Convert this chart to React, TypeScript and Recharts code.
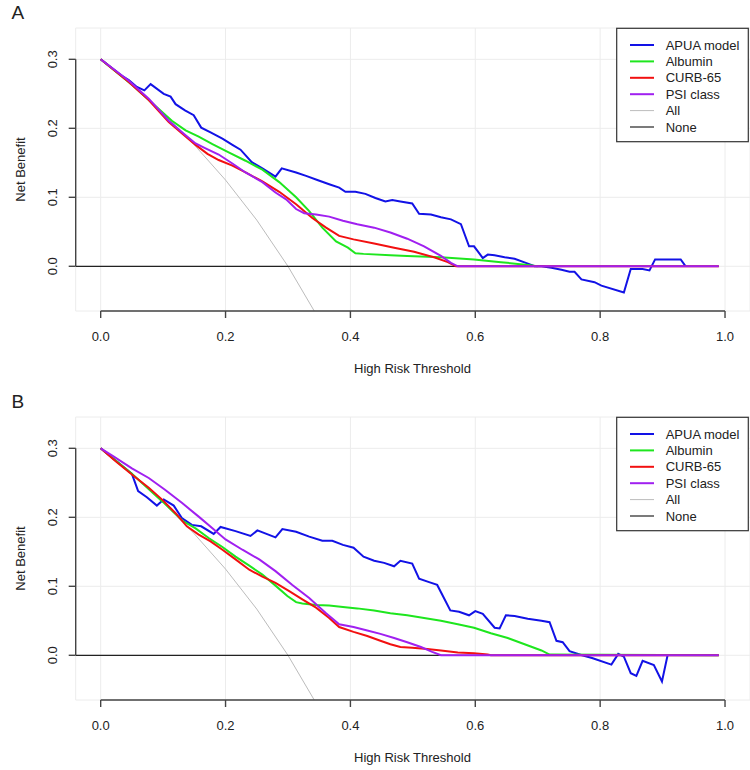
import React from 'react';
import {LineChart, Line, XAxis, YAxis, CartesianGrid} from 'recharts';

// [threshold, net benefit] pairs
const treatAll = [
  [0, 0.3], [0.05, 0.263], [0.1, 0.222], [0.15, 0.176], [0.2, 0.125],
  [0.25, 0.067], [0.3, 0.0], [0.35, -0.077],
];
const treatNone = [[-0.04, 0], [0.99, 0]];

const apuaA = [
  [0, 0.3], [0.034, 0.276], [0.045, 0.27], [0.058, 0.26], [0.07, 0.255], [0.08, 0.264],
  [0.101, 0.25], [0.112, 0.246], [0.12, 0.235], [0.135, 0.226], [0.149, 0.219], [0.161, 0.201],
  [0.176, 0.194], [0.195, 0.185], [0.211, 0.176], [0.224, 0.169], [0.242, 0.151], [0.259, 0.142],
  [0.28, 0.13], [0.29, 0.142], [0.313, 0.136], [0.329, 0.131], [0.347, 0.125], [0.366, 0.119],
  [0.382, 0.114], [0.392, 0.108], [0.408, 0.108], [0.424, 0.105], [0.44, 0.099], [0.456, 0.094],
  [0.467, 0.096], [0.48, 0.094], [0.499, 0.091], [0.51, 0.076], [0.529, 0.075], [0.545, 0.071],
  [0.561, 0.068], [0.577, 0.061], [0.59, 0.029], [0.598, 0.029], [0.612, 0.012], [0.62, 0.017],
  [0.631, 0.016], [0.647, 0.013], [0.663, 0.011], [0.681, 0.005], [0.695, 0.0], [0.706, 0.0],
  [0.722, -0.002], [0.738, -0.005], [0.751, -0.008], [0.759, -0.008], [0.77, -0.019],
  [0.791, -0.023], [0.802, -0.028], [0.838, -0.038], [0.849, -0.004], [0.868, -0.004],
  [0.879, -0.006], [0.888, 0.01], [0.929, 0.01], [0.937, 0.0],
];
const albuminA = [
  [0, 0.3], [0.05, 0.263], [0.114, 0.211], [0.136, 0.197], [0.157, 0.188], [0.179, 0.177],
  [0.205, 0.165], [0.232, 0.153], [0.259, 0.14], [0.286, 0.122], [0.313, 0.1], [0.334, 0.08],
  [0.355, 0.056], [0.377, 0.036], [0.396, 0.027], [0.408, 0.019], [0.421, 0.018], [0.464, 0.016],
  [0.491, 0.015], [0.545, 0.013], [0.598, 0.01], [0.641, 0.006], [0.684, 0.002], [0.7, 0.0],
];
const curbA = [
  [0, 0.3], [0.045, 0.267], [0.077, 0.241], [0.109, 0.209], [0.136, 0.188], [0.152, 0.176],
  [0.171, 0.163], [0.189, 0.154], [0.211, 0.146], [0.232, 0.136], [0.259, 0.123], [0.286, 0.108],
  [0.313, 0.09], [0.339, 0.07], [0.361, 0.056], [0.382, 0.044], [0.405, 0.039], [0.438, 0.033],
  [0.47, 0.027], [0.502, 0.021], [0.534, 0.013], [0.556, 0.006], [0.569, 0.0], [0.99, 0],
];
const psiA = [
  [0, 0.3], [0.045, 0.269], [0.077, 0.243], [0.109, 0.211], [0.136, 0.19], [0.152, 0.178],
  [0.168, 0.171], [0.189, 0.162], [0.211, 0.149], [0.232, 0.136], [0.259, 0.122], [0.28, 0.107],
  [0.297, 0.097], [0.313, 0.083], [0.326, 0.077], [0.345, 0.075], [0.366, 0.072], [0.388, 0.066],
  [0.411, 0.061], [0.438, 0.056], [0.464, 0.049], [0.491, 0.04], [0.518, 0.029], [0.545, 0.015],
  [0.561, 0.005], [0.572, 0.0], [0.99, 0],
];

const apuaB = [
  [0, 0.3], [0.05, 0.263], [0.06, 0.238], [0.074, 0.229], [0.09, 0.217], [0.101, 0.226],
  [0.117, 0.217], [0.13, 0.199], [0.146, 0.189], [0.161, 0.187], [0.181, 0.176], [0.192, 0.186],
  [0.216, 0.18], [0.24, 0.173], [0.251, 0.181], [0.28, 0.171], [0.291, 0.183], [0.313, 0.179],
  [0.334, 0.172], [0.355, 0.166], [0.371, 0.166], [0.388, 0.16], [0.405, 0.156], [0.421, 0.143],
  [0.438, 0.137], [0.454, 0.134], [0.47, 0.129], [0.48, 0.137], [0.499, 0.133], [0.51, 0.111],
  [0.526, 0.106], [0.539, 0.102], [0.56, 0.065], [0.574, 0.063], [0.59, 0.058], [0.6, 0.064],
  [0.612, 0.06], [0.631, 0.04], [0.639, 0.039], [0.649, 0.058], [0.663, 0.057], [0.684, 0.053],
  [0.706, 0.05], [0.719, 0.048], [0.73, 0.021], [0.74, 0.019], [0.751, 0.006], [0.771, 0.0],
  [0.787, -0.004], [0.818, -0.0135], [0.829, 0.002], [0.838, -0.002], [0.849, -0.026],
  [0.858, -0.03], [0.868, -0.008], [0.886, -0.014], [0.899, -0.038], [0.908, 0.0],
];
const albuminB = [
  [0, 0.3], [0.05, 0.263], [0.1, 0.222], [0.131, 0.195], [0.152, 0.184], [0.173, 0.17],
  [0.195, 0.157], [0.216, 0.143], [0.238, 0.13], [0.259, 0.117], [0.28, 0.101], [0.299, 0.086],
  [0.313, 0.077], [0.323, 0.075], [0.345, 0.073], [0.366, 0.072], [0.388, 0.07], [0.411, 0.068],
  [0.438, 0.065], [0.464, 0.061], [0.491, 0.058], [0.518, 0.054], [0.545, 0.05], [0.572, 0.045],
  [0.598, 0.04], [0.625, 0.032], [0.652, 0.025], [0.679, 0.016], [0.706, 0.007], [0.719, 0.001],
  [0.99, 0],
];
const curbB = [
  [0, 0.3], [0.023, 0.282], [0.05, 0.262], [0.077, 0.243], [0.098, 0.226], [0.12, 0.206],
  [0.138, 0.187], [0.157, 0.175], [0.176, 0.165], [0.195, 0.153], [0.216, 0.139], [0.238, 0.124],
  [0.259, 0.114], [0.28, 0.105], [0.302, 0.093], [0.323, 0.081], [0.345, 0.069], [0.366, 0.054],
  [0.382, 0.041], [0.405, 0.034], [0.427, 0.028], [0.448, 0.021], [0.464, 0.016], [0.48, 0.012],
  [0.499, 0.011], [0.523, 0.009], [0.545, 0.007], [0.572, 0.004], [0.598, 0.003], [0.62, 0.001],
  [0.625, 0], [0.99, 0],
];
const psiB = [
  [0, 0.3], [0.023, 0.287], [0.05, 0.271], [0.077, 0.257], [0.103, 0.24], [0.13, 0.221],
  [0.157, 0.201], [0.179, 0.184], [0.2, 0.168], [0.227, 0.153], [0.254, 0.139], [0.28, 0.122],
  [0.307, 0.102], [0.334, 0.083], [0.361, 0.061], [0.382, 0.045], [0.405, 0.041], [0.427, 0.036],
  [0.448, 0.031], [0.47, 0.025], [0.491, 0.019], [0.513, 0.012], [0.531, 0.005], [0.545, 0],
  [0.99, 0],
];

const xTicks = [0, 0.2, 0.4, 0.6, 0.8, 1.0];
const yTicks = [0, 0.1, 0.2, 0.3];
const legendNames = ['APUA model', 'Albumin', 'CURB-65', 'PSI class', 'All', 'None'];
const legendColors = ['#1212e6', '#1ee61e', '#f21010', '#a020f0', '#bcbcbc', '#222222'];
const legendWidths = [2, 2, 2, 2, 1, 1.2];

const W = 750;
const H = 388;
const TOP = 28;
const BOTTOM = 311;
const Y_AXIS_W = 75.7;
const X_DOMAIN = [-0.04, 1.04];
const Y_DOMAIN = [-0.0648, 0.3454];
const FONT = '"Liberation Sans", Arial, sans-serif';
const AXIS = '#444';
const TEXT = '#222';

// pixel helpers for the axis lines in the overlay (same mapping the chart uses)
const plotW = W - Y_AXIS_W;
const px = (t: number) => Y_AXIS_W + ((t - X_DOMAIN[0]) / (X_DOMAIN[1] - X_DOMAIN[0])) * plotW;
const py = (v: number) => BOTTOM - ((v - Y_DOMAIN[0]) / (Y_DOMAIN[1] - Y_DOMAIN[0])) * (BOTTOM - TOP);

const toPts = (arr: number[][]) => arr.map(([t, nb]) => ({t, nb}));

const XTick = (p: any) => (
  <text x={p.x} y={341} textAnchor='middle' fontSize={13} fontFamily={FONT} fill={TEXT}>
    {p.payload.value.toFixed(1)}
  </text>
);

const YTick = (p: any) => (
  <text x={57} y={p.y} textAnchor='middle' fontSize={13} fontFamily={FONT} fill={TEXT}
    transform={`rotate(-90, 57, ${p.y})`}>
    {p.payload.value.toFixed(1)}
  </text>
);

type PanelProps = {
  letter: string;
  top: number;
  series: number[][][];
};

const Panel: React.FC<PanelProps> = ({letter, top, series}) => {
  // drawing order: All, None, then the four models (PSI on top)
  const order = [4, 5, 0, 1, 2, 3];
  return (
    <div style={{position: 'absolute', left: 0, top, width: W, height: H}}>
      <LineChart width={W} height={H} margin={{top: TOP, right: 0, bottom: 0, left: 0}}>
        <CartesianGrid stroke='#ececec' strokeWidth={1} />
        <XAxis
          dataKey='t'
          type='number'
          domain={X_DOMAIN}
          ticks={xTicks}
          height={H - BOTTOM}
          axisLine={false}
          tickLine={{stroke: AXIS, strokeWidth: 1.4}}
          tickSize={7}
          tick={XTick}
          allowDataOverflow
        />
        <YAxis
          type='number'
          domain={Y_DOMAIN}
          ticks={yTicks}
          width={Y_AXIS_W}
          axisLine={false}
          tickLine={{stroke: AXIS, strokeWidth: 1.4}}
          tickSize={7}
          tick={YTick}
          allowDataOverflow
        />
        {order.map((i) => (
          <Line
            key={legendNames[i]}
            data={toPts(series[i])}
            dataKey='nb'
            type='linear'
            stroke={legendColors[i]}
            strokeWidth={legendWidths[i]}
            dot={false}
            activeDot={false}
            isAnimationActive={false}
          />
        ))}
      </LineChart>
      <svg
        width={W}
        height={H}
        style={{position: 'absolute', left: 0, top: 0, pointerEvents: 'none'}}
      >
        <path
          d={`M${px(0)},${BOTTOM}H${px(1)}M${Y_AXIS_W},${py(0)}V${py(0.3)}`}
          fill='none'
          stroke={AXIS}
          strokeWidth={1.4}
        />
        <text x={11.5} y={19} fontSize={19} fontFamily={FONT} fill={TEXT}>{letter}</text>
        <text x={412.5} y={372.5} textAnchor='middle' fontSize={13} fontFamily={FONT} fill={TEXT}>
          High Risk Threshold
        </text>
        <text x={25} y={169.5} textAnchor='middle' fontSize={13} fontFamily={FONT} fill={TEXT}
          transform='rotate(-90, 25, 169.5)'>
          Net Benefit
        </text>
        <rect x={616.7} y={28.3} width={131.6} height={113.4} fill='#fff' stroke='#333' strokeWidth={1.2} />
        {legendNames.map((name, i) => {
          const y = 45 + i * 16.4;
          return (
            <g key={name}>
              <line x1={630} x2={654} y1={y} y2={y} stroke={legendColors[i]} strokeWidth={legendWidths[i]} />
              <text x={665.7} y={y + 4.6} fontSize={13} fontFamily={FONT} fill={TEXT}>{name}</text>
            </g>
          );
        })}
      </svg>
    </div>
  );
};

const App: React.FC = () => (
  <div style={{position: 'absolute', left: 0, top: 0, width: 750, height: 770, background: '#fff'}}>
    <Panel letter='A' top={0} series={[apuaA, albuminA, curbA, psiA, treatAll, treatNone]} />
    <Panel letter='B' top={388.5} series={[apuaB, albuminB, curbB, psiB, treatAll, treatNone]} />
  </div>
);

export default App;
